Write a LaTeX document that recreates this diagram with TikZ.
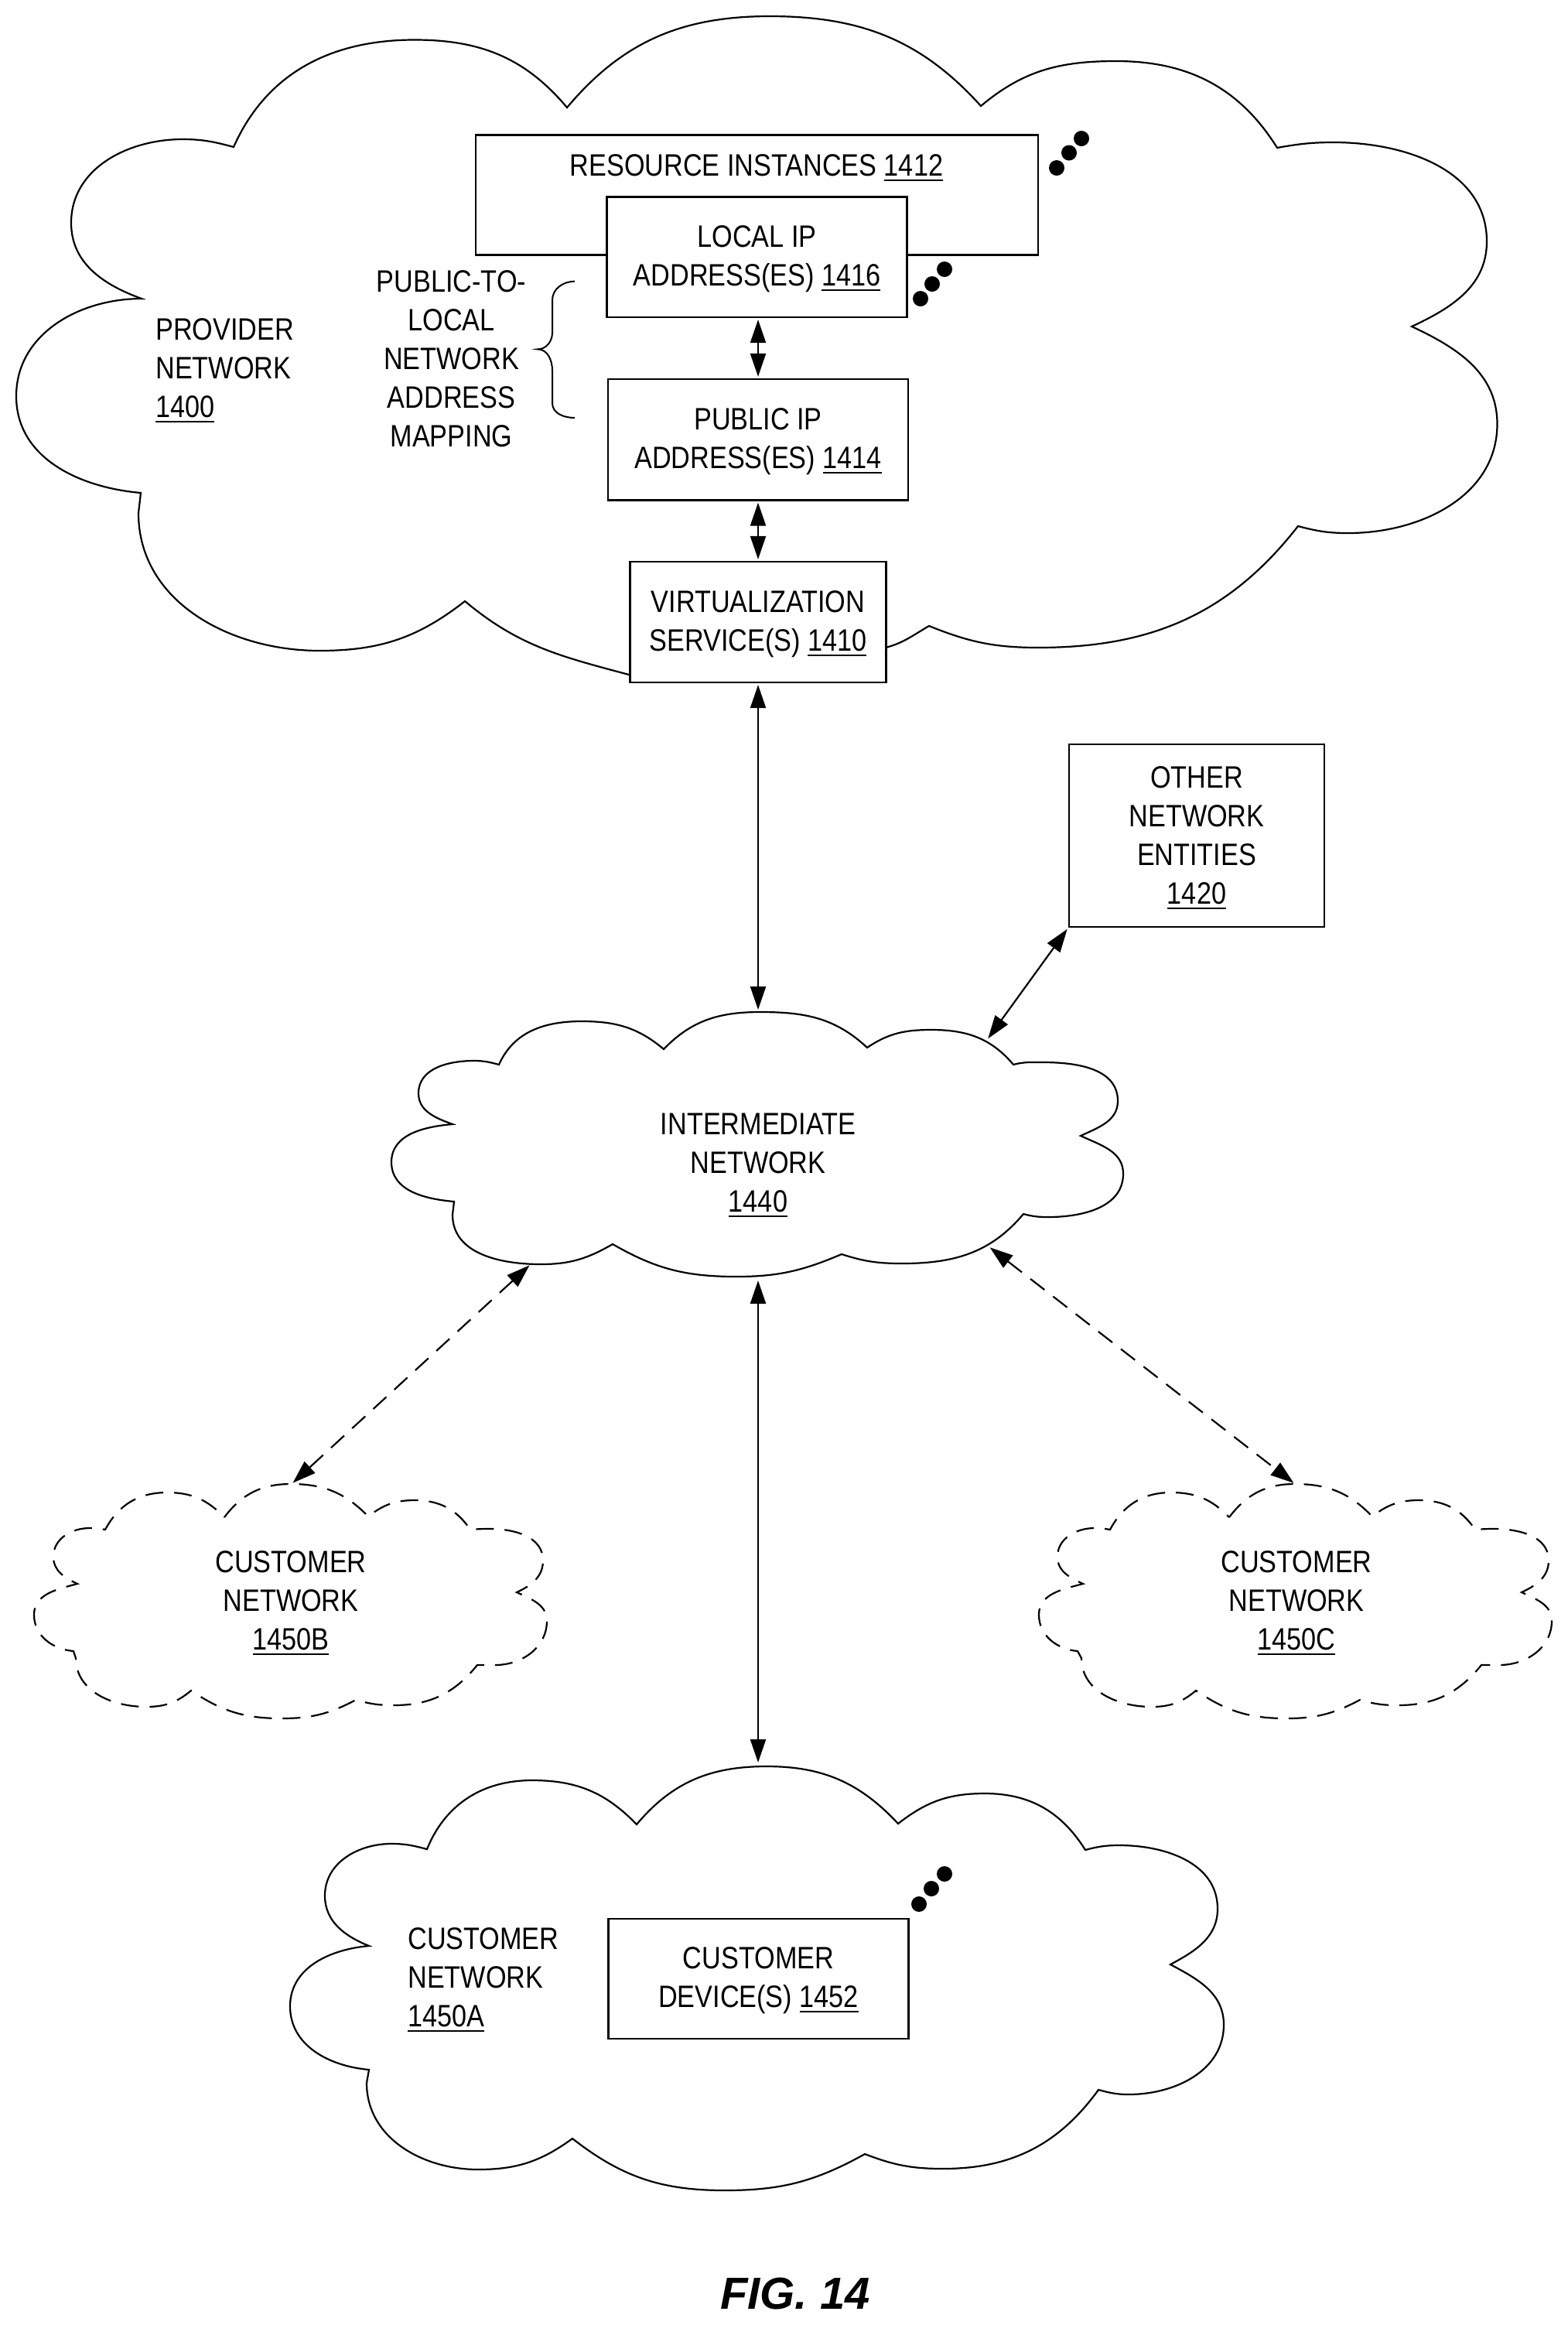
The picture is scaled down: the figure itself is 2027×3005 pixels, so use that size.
\documentclass[tikz,border=0pt]{standalone}
\usepackage{fontspec}
\usetikzlibrary{arrows.meta,calc}
\setmainfont{Liberation Sans}[FakeStretch=0.855]
\newfontfamily\figfont{Liberation Sans}
\newcommand\ul[1]{\setbox0\hbox{#1}\rlap{\vrule width\wd0 height -2.2pt depth 3.2pt}\box0}
\newcommand\dn{\rule{0pt}{16.5pt}}
\tikzset{
  lbl/.style={inner sep=0pt,align=center,font=\fontsize{20}{25}\selectfont},
  lblleft/.style={inner sep=0pt,align=left,font=\fontsize{20}{25}\selectfont},
  boxnode/.style={draw,line width=1.15pt,fill=white,inner sep=0pt,align=center,font=\fontsize{20}{25}\selectfont},
  cloudline/.style={line width=1.1pt,line join=miter},
  dashline/.style={line width=1.1pt,dash pattern=on 11.5pt off 7pt},
  both/.style={{Triangle[length=15pt,width=10pt]}-{Triangle[length=15pt,width=10pt]},line width=1.1pt,shorten <=1pt,shorten >=1pt},
  dashboth/.style={both,dash pattern=on 11.5pt off 7pt}
}
\begin{document}
\begin{tikzpicture}[x=0.5pt,y=0.5pt]
\useasboundingbox (0,0) rectangle (2027,-3005);
% provider cloud
\draw[cloudline] (302,-190)
 to[out=66,in=180] (536,-51.5) to[out=0,in=130] (733,-139)
 to[out=50,in=180] (995,-21) to[out=0,in=132] (1268,-137)
 to[out=40,in=180] (1443,-79) to[out=0,in=122] (1651,-191)
 to[out=10,in=180] (1724,-184) to[out=0,in=90] (1922,-312)
 to[out=-90,in=25] (1825,-422) to[out=-25,in=90] (1935.5,-548)
 to[out=-90,in=0] (1743,-689) to[out=180,in=-15] (1678,-680)
 to[out=-128,in=0] (1342,-837) to[out=180,in=-22] (1201,-809)
 to[out=-150,in=15] (1145,-837) -- (813,-872)
 to[out=165,in=-40] (601,-777) to[out=-142,in=0] (413,-841)
 to[out=180,in=-90] (179,-663) -- (182,-637)
 to[out=175,in=-90] (21,-512) to[out=90,in=180] (183,-386)
 to[out=160,in=-90] (92,-288) to[out=90,in=180] (236,-180)
 to[out=0,in=165] cycle;
% intermediate cloud
\draw[cloudline] (858,-1356)
 to[out=46,in=180] (983,-1308) to[out=0,in=137] (1121,-1354)
 to[out=34,in=180] (1204,-1331) to[out=0,in=130] (1310,-1376)
 to[out=15,in=180] (1348,-1373) to[out=0,in=90] (1445,-1423)
 to[out=-90,in=25] (1397,-1468) to[out=-25,in=90] (1452,-1517)
 to[out=-90,in=0] (1355,-1573) to[out=180,in=-15] (1323,-1569)
 to[out=-130,in=0] (1166,-1633) to[out=180,in=-18] (1088,-1621)
 to[out=-157,in=0] (952,-1650) to[out=180,in=-30] (792,-1608)
 to[out=-150,in=0] (699,-1634) to[out=180,in=-90] (585,-1570) -- (587,-1553)
 to[out=175,in=-90] (506,-1502) to[out=90,in=-175] (585,-1453)
 to[out=160,in=-90] (541,-1413) to[out=90,in=180] (613,-1371)
 to[out=0,in=165] (645,-1376) to[out=66,in=180] (752,-1320)
 to[out=0,in=140] cycle;
% customer network B
\draw[cloudline,dashline] (290,-1961)
 to[out=53,in=180] (376,-1918) to[out=0,in=134] (476,-1960)
 to[out=38,in=180] (536,-1939) to[out=0,in=124] (608,-1977)
 to[out=5,in=180] (633,-1976) to[out=0,in=90] (702,-2017)
 to[out=-90,in=25] (668,-2058) to[out=-25,in=90] (707,-2095)
 to[out=-90,in=0] (640,-2152) -- (617,-2152)
 to[out=-129,in=0] (509,-2204) to[out=180,in=-16] (460,-2197)
 to[out=-152,in=0] (364,-2221) to[out=180,in=-34] (247,-2185)
 to[out=-140,in=0] (189,-2206) to[out=180,in=-90] (98,-2143) -- (95,-2134)
 to[out=175,in=-90] (44,-2087) to[out=90,in=-165] (100,-2047)
 to[out=155,in=-90] (69,-2012) to[out=90,in=180] (116,-1975)
 to[out=0,in=170] (136,-1977) to[out=62,in=180] (216,-1929)
 to[out=0,in=134] cycle;
% customer network C
\draw[cloudline,dashline] (1589,-1961)
 to[out=53,in=180] (1674,-1918) to[out=0,in=134] (1774,-1960)
 to[out=38,in=180] (1834,-1939) to[out=0,in=124] (1907,-1977)
 to[out=5,in=180] (1931,-1976) to[out=0,in=90] (2002,-2017)
 to[out=-90,in=25] (1967,-2058) to[out=-25,in=90] (2006,-2095)
 to[out=-90,in=0] (1938,-2152) -- (1915,-2152)
 to[out=-129,in=0] (1807,-2204) to[out=180,in=-16] (1758,-2197)
 to[out=-152,in=0] (1663,-2221) to[out=180,in=-34] (1546,-2185)
 to[out=-140,in=0] (1489,-2206) to[out=180,in=-90] (1398,-2143) -- (1393,-2134)
 to[out=175,in=-90] (1343,-2087) to[out=90,in=-165] (1400,-2047)
 to[out=155,in=-90] (1367,-2012) to[out=90,in=180] (1415,-1975)
 to[out=0,in=170] (1435,-1977) to[out=62,in=180] (1514,-1929)
 to[out=0,in=134] cycle;
% customer network A
\draw[cloudline] (823,-2358)
 to[out=50,in=180] (991,-2283) to[out=0,in=133] (1161,-2357)
 to[out=38,in=180] (1273,-2318) to[out=0,in=122] (1403,-2391)
 to[out=15,in=180] (1447,-2385) to[out=0,in=90] (1574,-2467)
 to[out=-90,in=28] (1513,-2539) to[out=-28,in=90] (1582,-2617)
 to[out=-90,in=0] (1459,-2707) to[out=180,in=-15] (1420,-2701)
 to[out=-126,in=0] (1219,-2803) to[out=180,in=-21] (1118,-2784)
 to[out=-151,in=0] (937,-2831) to[out=180,in=-38] (740,-2764)
 to[out=-144,in=0] (618,-2804) to[out=180,in=-90] (474,-2692) -- (477,-2675)
 to[out=175,in=-90] (375,-2593) to[out=90,in=-175] (477,-2515)
 to[out=158,in=-90] (420,-2450) to[out=90,in=180] (506,-2383)
 to[out=0,in=165] (552,-2390) to[out=68,in=180] (688,-2301)
 to[out=0,in=134] cycle;
% connector ends on clouds
\coordinate (iTop) at (980,-1307);
\coordinate (iBottom) at (980,-1653);
\coordinate (iRight) at (1276,-1344);
\coordinate (iLowLeft) at (686,-1634);
\coordinate (iLowRight) at (1278,-1611);
\coordinate (bTop) at (377,-1918);
\coordinate (cTop) at (1674,-1918);
\coordinate (aTop) at (980,-2280);
% boxes
\node[boxnode,minimum width=726.5*0.5pt,minimum height=155*0.5pt] (res) at (978.5,-252) {};
\node[lbl] (restext) at (978,-217) {RESOURCE INSTANCES \ul{1412}};
\node[boxnode,minimum width=388*0.5pt,minimum height=155.5*0.5pt] (local) at (978.5,-332.25) {\dn LOCAL IP\\ADDRESS(ES) \ul{1416}};
\node[boxnode,minimum width=387.5*0.5pt,minimum height=156.5*0.5pt] (public) at (980,-568.25) {\dn PUBLIC IP\\ADDRESS(ES) \ul{1414}};
\node[boxnode,minimum width=331*0.5pt,minimum height=156*0.5pt] (virt) at (980,-804) {\dn VIRTUALIZATION\\SERVICE(S) \ul{1410}};
\node[boxnode,minimum width=330*0.5pt,minimum height=236*0.5pt] (other) at (1547,-1080) {\rule{0pt}{16.8pt}OTHER\\NETWORK\\ENTITIES\\\ul{1420}};
\node[boxnode,minimum width=388*0.5pt,minimum height=155*0.5pt] (device) at (980.5,-2557.5) {\dn CUSTOMER\\DEVICE(S) \ul{1452}};
% labels
\node[lblleft,anchor=west] (provider) at (201,-479) {PROVIDER\\NETWORK\\\ul{1400}};
\node[lbl] (mapping) at (583.5,-464) {PUBLIC-TO-\\LOCAL\\NETWORK\\ADDRESS\\MAPPING};
\node[lbl] (inter) at (980,-1506) {INTERMEDIATE\\NETWORK\\\ul{1440}};
\node[lbl] (custb) at (376,-2072) {CUSTOMER\\NETWORK\\\ul{1450B}};
\node[lbl] (custc) at (1676,-2072) {CUSTOMER\\NETWORK\\\ul{1450C}};
\node[lblleft,anchor=west] (custa) at (527,-2559) {CUSTOMER\\NETWORK\\\ul{1450A}};
\node[inner sep=0pt,font=\figfont\fontsize{29}{29}\selectfont\bfseries\itshape] (fig) at (1028,-2964) {FIG. 14};
% brace
\draw[line width=1pt] (743,-363.6) to[out=180,in=90] (714,-388) -- (714,-430)
 to[out=-90,in=0] (695,-451.4) to[out=0,in=90] (714,-479) -- (714,-521)
 to[out=-90,in=180] (743,-540);
% dots
\fill (1398,-179) circle[radius=10] (1382,-197.5) circle[radius=10] (1366,-217) circle[radius=10];
\fill (1221,-348) circle[radius=10] (1205,-367) circle[radius=10] (1190,-386) circle[radius=10];
\fill (1221,-2422) circle[radius=10] (1204,-2441) circle[radius=10] (1188,-2461) circle[radius=10];
% connectors
\draw[both] (public.north |- local.south) -- (public.north);
\draw[both] (public.south) -- (virt.north);
\draw[both] (virt.south) -- (iTop);
\draw[both] (other.south west) -- (iRight);
\draw[both] (iBottom) -- (aTop);
\draw[dashboth] (iLowLeft) -- (bTop);
\draw[dashboth] (iLowRight) -- (cTop);
\end{tikzpicture}
\end{document}
